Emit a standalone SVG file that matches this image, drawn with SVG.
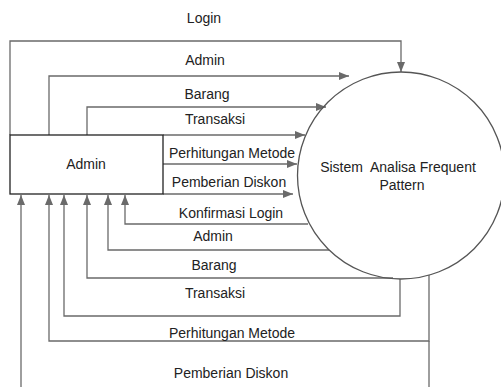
<svg xmlns="http://www.w3.org/2000/svg" width="501" height="387" viewBox="0 0 501 387">
<style>
text{font-family:"Liberation Sans",Arial,sans-serif;font-size:14px;fill:#222;text-anchor:middle}
.c{fill:none;stroke:#6a6a6a;stroke-width:1.3}
</style>
<defs>
<marker id="ah" markerWidth="10" markerHeight="8" refX="10" refY="4" orient="auto" markerUnits="userSpaceOnUse">
<path d="M0,0 L10,4 L0,8 Z" fill="#6a6a6a"/>
</marker>
</defs>
<rect width="501" height="387" fill="#fff"/>
<g id="connectors">
<path class="c" d="M10,135 V41 H401 V72" marker-end="url(#ah)"/>
<path class="c" d="M49,135 V76 H349" marker-end="url(#ah)"/>
<path class="c" d="M87,135 V107 H326" marker-end="url(#ah)"/>
<path class="c" d="M163,135 H305" marker-end="url(#ah)"/>
<path class="c" d="M163,164 H297" marker-end="url(#ah)"/>
<path class="c" d="M163,194 H293" marker-end="url(#ah)"/>
<path class="c" d="M308,224 H125 V195" marker-end="url(#ah)"/>
<path class="c" d="M329,250 H108 V195" marker-end="url(#ah)"/>
<path class="c" d="M393,278 H87 V195" marker-end="url(#ah)"/>
<path class="c" d="M400,279 V316 H64 V195" marker-end="url(#ah)"/>
<path class="c" d="M429,275 V341 H49 V195" marker-end="url(#ah)"/>
<path class="c" d="M429,341 V387"/>
<path class="c" d="M21,387 V195" marker-end="url(#ah)"/>
<text x="204" y="23">Login</text>
<text x="205" y="65">Admin</text>
<text x="207" y="99">Barang</text>
<text x="215" y="124">Transaksi</text>
<text x="232" y="158">Perhitungan Metode</text>
<text x="229" y="187">Pemberian Diskon</text>
<text x="231" y="218">Konfirmasi Login</text>
<text x="213" y="241">Admin</text>
<text x="214" y="270">Barang</text>
<text x="215" y="298">Transaksi</text>
<text x="232" y="338">Perhitungan Metode</text>
<text x="231" y="378">Pemberian Diskon</text>
</g>
<g id="admin">
<rect x="10" y="135" width="153" height="59" fill="#fff" stroke="#222" stroke-width="1.3"/>
<text x="86" y="169">Admin</text>
</g>
<g id="sistem">
<circle cx="401" cy="175.5" r="103.5" fill="none" stroke="#555" stroke-width="1.3"/>
<text x="398" y="172" xml:space="preserve">Sistem  Analisa Frequent</text>
<text x="402" y="190">Pattern</text>
</g>
</svg>
